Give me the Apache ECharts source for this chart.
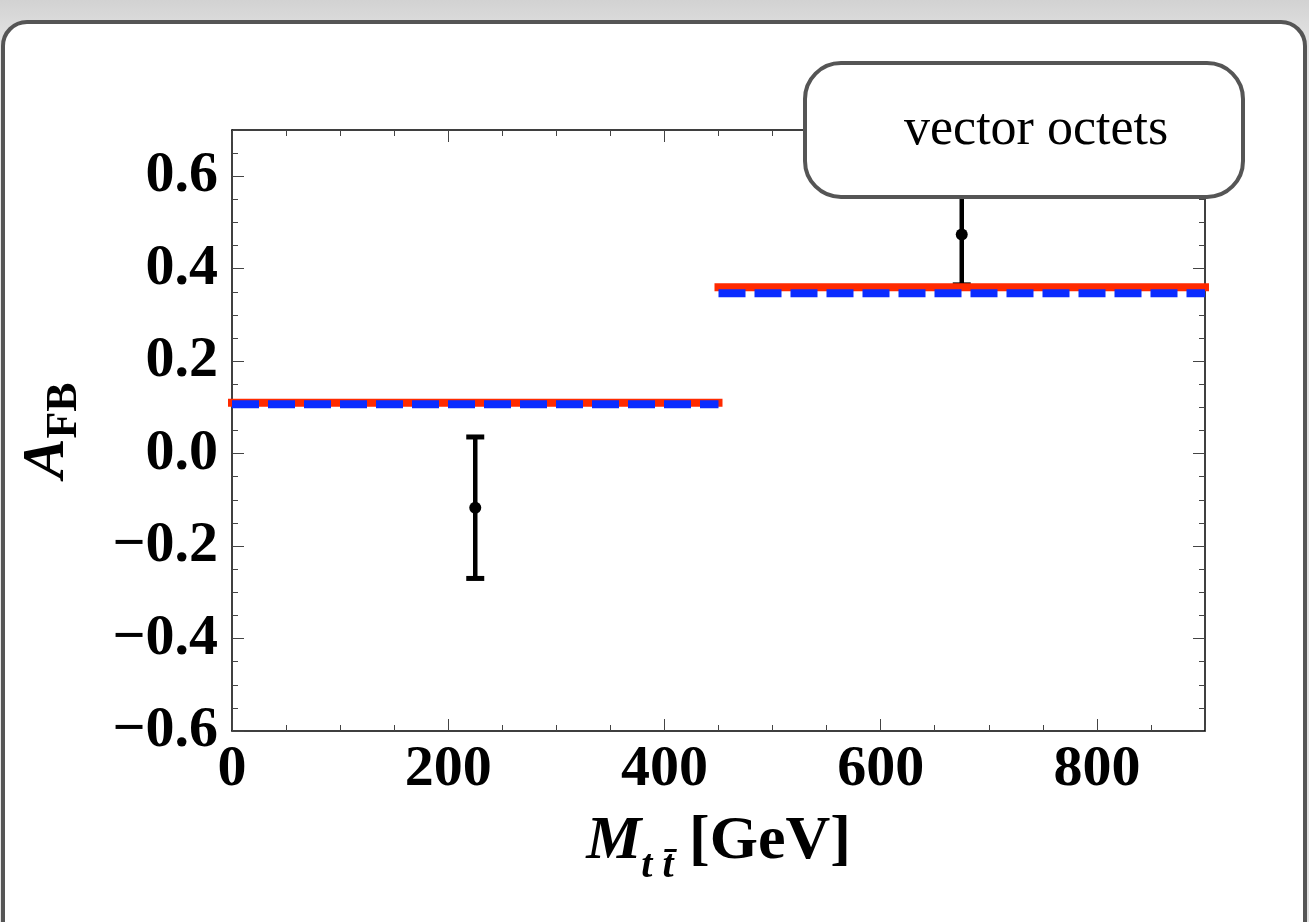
<!DOCTYPE html>
<html>
<head>
<meta charset="utf-8">
<title>A_FB vs M_tt</title>
<script src="https://cdn.jsdelivr.net/npm/echarts@6/dist/echarts.min.js"></script>
<style>
html, body { margin: 0; padding: 0; width: 1309px; height: 922px; overflow: hidden; }
body { background: linear-gradient(#d2d2d2, #e2e2e2 40px); }
#panel {
    position: absolute; left: 1px; top: 20px; width: 1306px; height: 940px;
    background: #fff; border: 4px solid #555; border-radius: 26px; box-sizing: border-box;
}
#chart { position: absolute; left: 0; top: 0; width: 1309px; height: 922px; }
</style>
</head>
<body>
<div id="panel"></div>
<div id="chart"></div>
<script>
// bins in M_tt [GeV] and the two model predictions per bin
var binEdges = [0, 450, 900];
var redLine = [0.11, 0.36];      // solid red
var blueLine = [0.107, 0.347];   // dashed blue

// measured points with error bars
var dataMass = [225, 675];
var dataAfb = [-0.117, 0.474];
var dataErr = [0.153, 0.109];

// axis ticks
var xRange = [0, 900];
var yRange = [-0.6, 0.7];
var xMajor = 200, xMinor = 50;
var yMajor = 0.2, yMinor = 0.05;

var serif = '"Liberation Serif", "Times New Roman", serif';

// horizontal segments per bin, broken between bins
function binSegments(values) {
    var out = [];
    for (var i = 0; i < values.length; i++) {
        if (i > 0) out.push([binEdges[i], '-']);
        out.push([binEdges[i], values[i]]);
        out.push([binEdges[i + 1], values[i]]);
    }
    return out;
}

function frameAxis(position, range, step, tickLen, withLine) {
    return {
        type: 'value',
        position: position,
        min: range[0],
        max: range[1],
        interval: step,
        axisLine: { show: withLine, onZero: false, lineStyle: { color: '#000', width: 1.5 } },
        axisTick: { show: true, inside: true, length: tickLen, lineStyle: { color: '#444', width: 1 } },
        axisLabel: { show: false },
        splitLine: { show: false }
    };
}

var xMain = frameAxis('bottom', xRange, xMajor, 12, true);
xMain.axisLabel = {
    show: true, margin: 10, showMaxLabel: false,
    fontFamily: serif, fontSize: 58, fontWeight: 'bold', color: '#000'
};
xMain.name = '{m|M}{s|t t\u0304}{g|\u00a0[GeV]}';
xMain.nameLocation = 'middle';
xMain.nameGap = 80;
xMain.nameTextStyle = {
    fontFamily: serif, color: '#000',
    rich: {
        m: { fontFamily: serif, fontSize: 62, fontWeight: 'bold', fontStyle: 'italic' },
        s: { fontFamily: serif, fontSize: 40, fontWeight: 'bold', fontStyle: 'italic', verticalAlign: 'bottom', padding: [0, 0, -14, 0] },
        g: { fontFamily: serif, fontSize: 62, fontWeight: 'bold' }
    }
};

var yMain = frameAxis('left', yRange, yMajor, 12, true);
yMain.axisLabel = {
    show: true, margin: 14, showMaxLabel: false,
    fontFamily: serif, fontSize: 58, fontWeight: 'bold', color: '#000',
    formatter: function (v) { return v.toFixed(1).replace('-', '\u2212'); }
};
yMain.name = '{a|A}{f|FB}';
yMain.nameLocation = 'middle';
yMain.nameRotate = 90;
yMain.nameGap = 155;
yMain.nameTextStyle = {
    fontFamily: serif, color: '#000',
    rich: {
        a: { fontFamily: serif, fontSize: 60, fontWeight: 'bold', fontStyle: 'italic' },
        f: { fontFamily: serif, fontSize: 44, fontWeight: 'bold', verticalAlign: 'bottom', padding: [0, 0, -10, 0] }
    }
};

var option = {
    animation: false,
    backgroundColor: 'transparent',
    grid: { left: 232, right: 104, top: 130, bottom: 191 },
    xAxis: [
        xMain,
        frameAxis('bottom', xRange, xMinor, 6, false),
        frameAxis('top', xRange, xMajor, 12, true),
        frameAxis('top', xRange, xMinor, 6, false)
    ],
    yAxis: [
        yMain,
        frameAxis('left', yRange, yMinor, 6, false),
        frameAxis('right', yRange, yMajor, 12, true),
        frameAxis('right', yRange, yMinor, 6, false)
    ],
    series: [
        {
            type: 'custom',
            xAxisIndex: 0, yAxisIndex: 0,
            z: 1,
            data: dataMass.map(function (m, i) { return [m, dataAfb[i], dataErr[i]]; }),
            encode: { x: 0, y: 1 },
            renderItem: function (params, api) {
                var x = api.value(0), y = api.value(1), e = api.value(2);
                var c = api.coord([x, y]);
                var hi = api.coord([x, y + e]);
                var lo = api.coord([x, y - e]);
                var bar = { stroke: '#000', lineWidth: 4.5 };
                var cap = { stroke: '#000', lineWidth: 5 };
                return {
                    type: 'group',
                    children: [
                        { type: 'line', shape: { x1: c[0], y1: hi[1], x2: c[0], y2: lo[1] }, style: bar },
                        { type: 'line', shape: { x1: c[0] - 9, y1: hi[1], x2: c[0] + 9, y2: hi[1] }, style: cap },
                        { type: 'line', shape: { x1: c[0] - 9, y1: lo[1], x2: c[0] + 9, y2: lo[1] }, style: cap },
                        { type: 'circle', shape: { cx: c[0], cy: c[1], r: 6 }, style: { fill: '#000' } }
                    ]
                };
            }
        },
        {
            type: 'line',
            xAxisIndex: 0, yAxisIndex: 0,
            z: 3,
            clip: false,
            showSymbol: false,
            data: binSegments(redLine),
            lineStyle: { color: '#ff2a00', width: 8, cap: 'square' }
        },
        {
            type: 'line',
            xAxisIndex: 0, yAxisIndex: 0,
            z: 4,
            clip: false,
            showSymbol: false,
            data: binSegments(blueLine),
            lineStyle: { color: '#0b2cff', width: 8, type: [27, 9] }
        }
    ],
    graphic: [
        {
            type: 'rect',
            z: 100,
            shape: { x: 805, y: 63, width: 438, height: 134, r: 36 },
            style: { fill: '#fff', stroke: '#555', lineWidth: 4 }
        },
        {
            type: 'text',
            z: 101,
            x: 904, y: 130,
            style: {
                text: 'vector octets',
                font: '52px ' + serif,
                fill: '#000',
                textAlign: 'left',
                textVerticalAlign: 'middle'
            }
        }
    ]
};

var myChart = echarts.init(document.getElementById('chart'), null, { renderer: 'canvas' });
myChart.setOption(option);
</script>
</body>
</html>
